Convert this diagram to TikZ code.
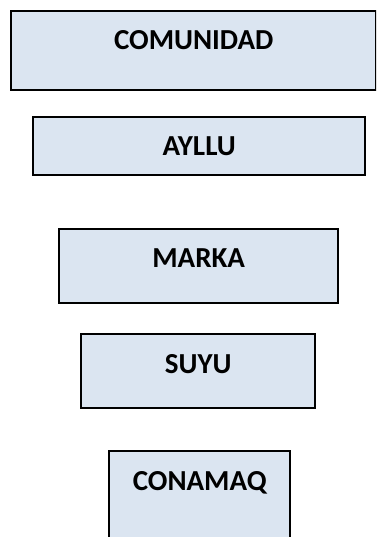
\documentclass[tikz,border=0pt]{standalone}
\usepackage{fontspec}
\setmainfont{Carlito}
\usepackage{xcolor}
\usetikzlibrary{positioning}

\definecolor{boxfill}{HTML}{DBE5F1}

\begin{document}
\begin{tikzpicture}[
	x=1pt, y=-1pt,
	level/.style={draw=black, line width=2.4pt, fill=boxfill, inner sep=0pt,
		font=\fontsize{29}{34}\selectfont\bfseries, anchor=north west}
	]

	\def\W{376}
	\def\H{537}

	\useasboundingbox (0,0) rectangle (\W,\H);
	\clip (0,0) rectangle (\W,\H);

	% the levels, top to bottom (text raised twice its offset)
	\node[level, minimum width=365pt, minimum height=79pt] (comunidad) at (10,10) {\raisebox{21pt}{COMUNIDAD}};
	\node[level, minimum width=332pt, minimum height=58pt] (ayllu) at (32,116) {AYLLU};
	\node[level, minimum width=279pt, minimum height=74pt] (marka) at (58,228) {\raisebox{16pt}{MARKA}};
	\node[level, minimum width=234pt, minimum height=74pt] (suyu) at (80,333) {\raisebox{14pt}{SUYU}};
	\node[level, minimum width=181pt, minimum height=96pt] (conamaq) at (108,450) {\raisebox{36pt}{CONAMAQ}};

\end{tikzpicture}
\end{document}
